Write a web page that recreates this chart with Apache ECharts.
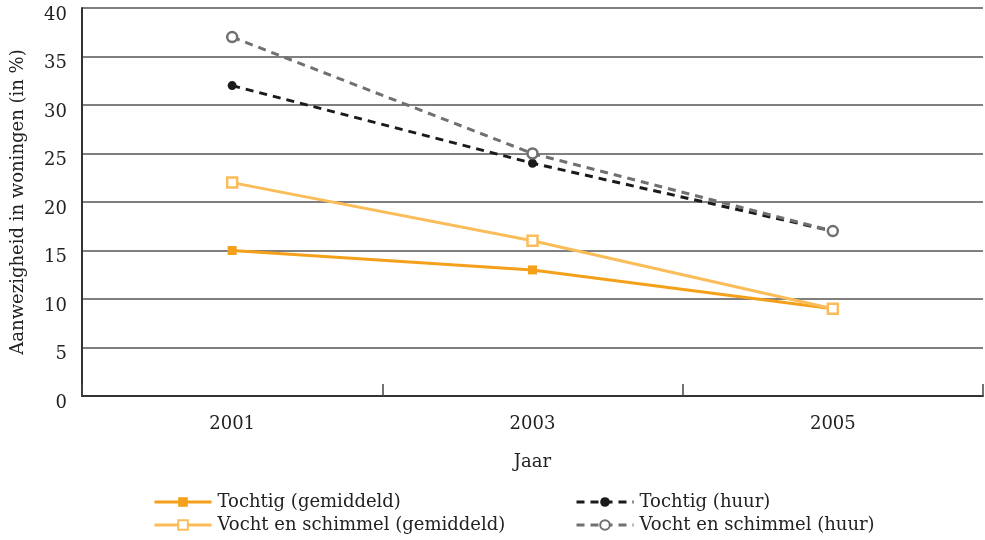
<!DOCTYPE html>
<html>
<head>
<meta charset="utf-8">
<script src="https://cdn.jsdelivr.net/npm/echarts@6/dist/echarts.min.js"></script>
<style>
  html, body { margin: 0; padding: 0; background: #fff; }
  #app { width: 985px; height: 540px; }
</style>
</head>
<body>
<div id="app"></div>
<script>
const years = ["2001", "2003", "2005"];
const tochtigGem = [15, 13, 9];
const vochtGem = [22, 16, 9];
const tochtigHuur = [32, 24, 17];
const vochtHuur = [37, 25, 17];

const font = "DejaVu Serif";
const chart = echarts.init(document.getElementById("app"));

// one legend per item so that the two columns line up as in the picture
function legendItem(name, left, top) {
  return {
    left: left,
    top: top,
    itemWidth: 57,
    itemHeight: 12,
    lineStyle: { width: 3 },
    textStyle: { fontFamily: font, fontSize: 18, color: "#222", padding: [0, 0, 0, 1] },
    data: [name],
  };
}

const option = {
  backgroundColor: "#fff",
  animation: false,
  textStyle: { fontFamily: font, color: "#222" },
  grid: { left: 82, right: 2, top: 8, bottom: 144, outerBoundsMode: "none", containLabel: false },
  legend: [
    legendItem("Tochtig (gemiddeld)", 148, 488),
    legendItem("Vocht en schimmel (gemiddeld)", 148, 511),
    legendItem("Tochtig (huur)", 570, 488),
    legendItem("Vocht en schimmel (huur)", 570, 511),
  ],
  xAxis: {
    type: "category",
    data: years,
    boundaryGap: true,
    name: "Jaar",
    nameLocation: "middle",
    nameGap: 57,
    nameTextStyle: { fontFamily: font, fontSize: 18, color: "#222" },
    axisLine: { lineStyle: { color: "#333", width: 2 } },
    axisTick: { show: true, inside: true, length: 12, lineStyle: { color: "#444", width: 1.5 } },
    axisLabel: { fontFamily: font, fontSize: 18, color: "#222", margin: 19 },
  },
  yAxis: {
    type: "value",
    min: 0,
    max: 40,
    interval: 5,
    name: "Aanwezigheid in woningen (in %)",
    nameLocation: "middle",
    nameGap: 55,
    nameTextStyle: { fontFamily: font, fontSize: 18, color: "#222" },
    axisLine: { show: true, lineStyle: { color: "#333", width: 2 } },
    axisTick: { show: false },
    axisLabel: {
      fontFamily: font,
      fontSize: 18,
      color: "#222",
      margin: 15,
      verticalAlign: "top",
      lineHeight: 14,
    },
    splitLine: { lineStyle: { color: "#555", width: 1.5 } },
  },
  series: [
    {
      name: "Tochtig (gemiddeld)",
      type: "line",
      data: tochtigGem,
      symbol: "rect",
      symbolSize: 9,
      color: "#F5A01A",
      lineStyle: { color: "#F5A01A", width: 3 },
      itemStyle: { color: "#F5A01A" },
      z: 2,
    },
    {
      name: "Vocht en schimmel (gemiddeld)",
      type: "line",
      data: vochtGem,
      symbol: "rect",
      symbolSize: 10,
      color: "#FBBC5A",
      lineStyle: { color: "#FBBC5A", width: 3 },
      itemStyle: { color: "#fff", borderColor: "#FBBC5A", borderWidth: 2.5 },
      z: 3,
    },
    {
      name: "Tochtig (huur)",
      type: "line",
      data: tochtigHuur,
      symbol: "circle",
      symbolSize: 9,
      color: "#1a1a1a",
      lineStyle: { color: "#1a1a1a", width: 3, type: [8, 6] },
      itemStyle: { color: "#1a1a1a" },
      z: 4,
    },
    {
      name: "Vocht en schimmel (huur)",
      type: "line",
      data: vochtHuur,
      symbol: "circle",
      symbolSize: 10,
      color: "#707070",
      lineStyle: { color: "#707070", width: 3, type: [8, 6] },
      itemStyle: { color: "#fff", borderColor: "#707070", borderWidth: 2.5 },
      z: 5,
    },
  ],
};

chart.setOption(option);
</script>
</body>
</html>
